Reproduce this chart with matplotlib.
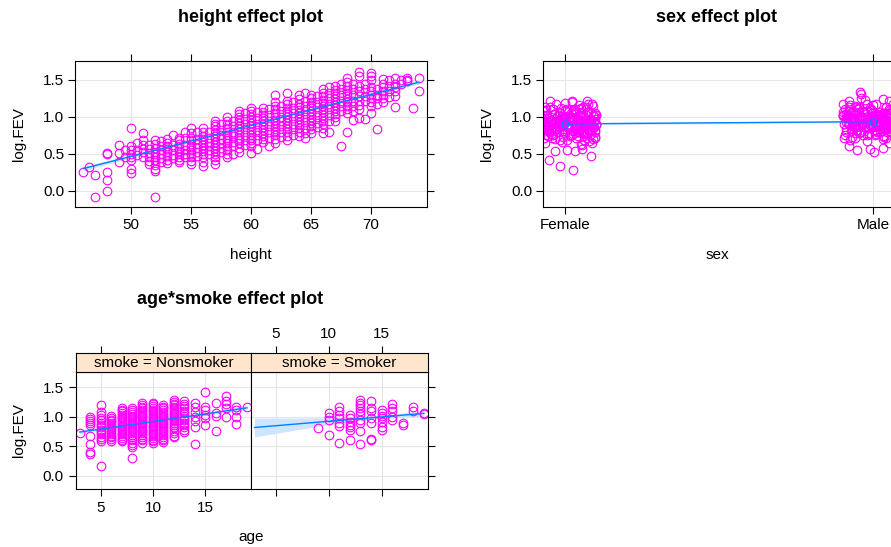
import matplotlib
matplotlib.use('Agg')
import matplotlib.pyplot as plt

plt.rcParams['font.family'] = ['Liberation Sans', 'DejaVu Sans']

# ---- data (partial residuals of log.FEV) ----
height_cols = [
    (46.0, [0.26]), (46.5, [0.32]), (47.0, [0.21, -0.08]),
    (48.0, [0.51, 0.50, 0.26, 0.14, -0.01]), (49.0, [0.62, 0.51, 0.39]),
    (49.5, [0.55, 0.45]),
    (50.0, [0.85, 0.60, 0.55, 0.50, 0.46, 0.42, 0.29, 0.24]),
    (50.5, [0.64, 0.55, 0.48]),
    (51.0, [0.78, 0.69, 0.62, 0.57, 0.52, 0.46]),
    (51.5, [0.62, 0.56, 0.51, 0.45, 0.40, 0.36]),
    (52.0, [0.68, 0.63, 0.58, 0.53, 0.50, 0.46, 0.42, 0.35, 0.30, 0.27, -0.09]),
    (52.5, [0.67, 0.60, 0.55, 0.50, 0.44, 0.39]),
    (53.0, [0.70, 0.65, 0.60, 0.56, 0.52, 0.47, 0.42, 0.37]),
    (53.5, [0.75, 0.62, 0.55, 0.48, 0.44]),
    (54.0, [0.72, 0.68, 0.63, 0.58, 0.54, 0.50, 0.46, 0.42, 0.39]),
    (54.5, [0.80, 0.72, 0.62, 0.55, 0.50, 0.45]),
    (55.0, [0.85, 0.78, 0.72, 0.68, 0.63, 0.59, 0.55, 0.50, 0.45, 0.40, 0.36]),
    (55.5, [0.79, 0.70, 0.63, 0.58, 0.52, 0.47]),
    (56.0, [0.85, 0.80, 0.74, 0.70, 0.66, 0.62, 0.58, 0.54, 0.50, 0.45, 0.39, 0.33]),
    (56.5, [0.80, 0.72, 0.65, 0.60, 0.55, 0.50]),
    (57.0, [0.95, 0.91, 0.87, 0.82, 0.78, 0.74, 0.70, 0.66, 0.62, 0.58, 0.54, 0.50, 0.46, 0.42, 0.36]),
    (57.5, [0.90, 0.82, 0.75, 0.70, 0.64, 0.58, 0.52]),
    (58.0, [1.00, 0.95, 0.90, 0.85, 0.80, 0.76, 0.72, 0.68, 0.64, 0.60, 0.55, 0.50, 0.45]),
    (58.5, [0.95, 0.88, 0.80, 0.74, 0.66, 0.60, 0.50]),
    (59.0, [1.08, 1.04, 1.00, 0.96, 0.92, 0.88, 0.84, 0.80, 0.76, 0.72, 0.68, 0.64, 0.58, 0.52]),
    (59.5, [1.05, 0.97, 0.90, 0.83, 0.75, 0.68, 0.62]),
    (60.0, [1.12, 1.08, 1.04, 1.00, 0.96, 0.92, 0.88, 0.84, 0.80, 0.76, 0.72, 0.68, 0.64, 0.60, 0.51]),
    (60.5, [1.07, 0.98, 0.90, 0.82, 0.75, 0.69, 0.57]),
    (61.0, [1.12, 1.06, 1.02, 0.98, 0.94, 0.90, 0.86, 0.82, 0.78, 0.74, 0.70, 0.66]),
    (61.5, [1.10, 1.02, 0.95, 0.88, 0.80, 0.72, 0.60]),
    (62.0, [1.29, 1.20, 1.15, 1.10, 1.05, 1.00, 0.96, 0.92, 0.88, 0.84, 0.80, 0.75, 0.70, 0.65]),
    (62.5, [1.15, 1.08, 1.00, 0.94, 0.88, 0.80, 0.73]),
    (63.0, [1.32, 1.22, 1.17, 1.12, 1.08, 1.04, 1.00, 0.96, 0.92, 0.88, 0.84, 0.79, 0.74, 0.69]),
    (63.5, [1.20, 1.12, 1.05, 0.98, 0.90, 0.83, 0.76]),
    (64.0, [1.30, 1.24, 1.18, 1.13, 1.09, 1.05, 1.01, 0.97, 0.93, 0.89, 0.85, 0.80, 0.74]),
    (64.5, [1.33, 1.22, 1.15, 1.08, 1.00, 0.93, 0.85, 0.78, 0.71]),
    (65.0, [1.30, 1.25, 1.20, 1.16, 1.12, 1.08, 1.04, 1.00, 0.96, 0.92, 0.88, 0.83, 0.78]),
    (65.5, [1.28, 1.20, 1.13, 1.06, 1.00, 0.92, 0.86]),
    (66.0, [1.38, 1.33, 1.28, 1.23, 1.19, 1.15, 1.11, 1.07, 1.03, 0.99, 0.95, 0.90, 0.85, 0.78]),
    (66.5, [1.40, 1.32, 1.25, 1.18, 1.10, 1.02, 0.95, 0.80]),
    (67.0, [1.42, 1.37, 1.32, 1.28, 1.24, 1.20, 1.16, 1.12, 1.08, 1.04, 1.00, 0.95]),
    (67.5, [1.45, 1.38, 1.30, 1.22, 1.15, 1.08, 0.61]),
    (68.0, [1.52, 1.47, 1.42, 1.37, 1.32, 1.28, 1.24, 1.20, 1.15, 1.10, 1.05, 0.79]),
    (68.5, [1.45, 1.38, 1.30, 1.22, 1.15, 1.08, 0.96]),
    (69.0, [1.61, 1.55, 1.42, 1.35, 1.28, 1.22, 1.16, 1.10, 0.98]),
    (69.5, [1.45, 1.38, 1.28, 1.22, 0.97]),
    (70.0, [1.59, 1.55, 1.50, 1.40, 1.35, 1.30, 1.25, 1.20, 1.15, 1.05]),
    (70.5, [1.38, 1.30, 1.25, 1.18, 0.84]),
    (71.0, [1.51, 1.45, 1.40, 1.35, 1.30, 1.25, 1.20]),
    (71.5, [1.50, 1.42, 1.35, 1.27]),
    (72.0, [1.52, 1.45, 1.40, 1.35, 1.28, 1.13]),
    (72.5, [1.50, 1.45]), (73.0, [1.53, 1.50, 1.48]), (73.5, [1.12]),
    (74.0, [1.53, 1.35]),
]
height_fit_x = [46, 53, 60, 67, 74]
height_fit_y = [0.30, 0.59, 0.885, 1.18, 1.47]
height_fit_lo = [0.27, 0.58, 0.88, 1.17, 1.445]
height_fit_hi = [0.33, 0.60, 0.89, 1.19, 1.495]

sex_levels = ['Female', 'Male']
sex_fit = [0.905, 0.935]
sex_lo = [0.89, 0.92]
sex_hi = [0.92, 0.95]

female_y = [
    0.42, 0.33, 0.28, 0.47, 0.54, 0.55, 0.54, 0.57, 0.64, 1.03,
    1.22, 1.22, 1.21, 1.18, 1.20, 1.18, 1.16, 1.14, 0.66, 0.68,
    0.70, 0.72, 0.74, 0.75, 0.77, 0.78, 0.80, 0.81, 0.82, 0.84,
    0.85, 0.86, 0.87, 0.88, 0.89, 0.90, 0.91, 0.92, 0.93, 0.94,
    0.95, 0.96, 0.97, 0.98, 0.99, 1.00, 1.01, 1.02, 1.04, 1.05,
    1.06, 1.08, 1.10, 1.12, 0.62, 0.65, 0.69, 0.73, 0.77, 0.81,
    0.85, 0.89, 0.93, 0.97, 1.01, 1.05, 1.09, 1.13, 0.71, 0.79,
    0.87, 0.95, 1.03, 1.11, 0.76, 0.84, 0.92, 1.00, 1.07, 0.68,
    0.83, 0.91, 0.99, 1.15, 0.74, 0.88, 0.96, 1.04, 0.80, 0.90,
    0.98, 0.86, 0.82, 0.94, 1.02, 0.78, 0.88, 0.92, 0.96, 0.84,
    1.00, 0.90, 0.86, 0.94, 0.80, 1.06, 0.72, 0.98, 0.88, 1.10,
    0.92, 0.84, 0.96, 0.76, 1.08, 0.90, 0.82, 0.99, 0.87, 0.93,
    0.91, 0.85, 0.97, 0.79, 1.03, 0.89, 0.95, 0.83, 1.01, 0.87,
    0.88, 0.93, 0.79, 1.04, 0.86, 0.97, 0.74, 1.09, 0.91, 0.83,
    0.95, 0.87, 1.01, 0.78, 0.92, 1.06, 0.84, 0.98, 0.71, 0.90,
    1.13, 0.81, 0.94, 0.87, 1.00, 0.76, 0.89, 1.03, 0.85, 0.96,
    0.70, 0.92, 1.08, 0.82, 0.99, 0.88, 0.75, 1.05, 0.93, 0.86,
    1.17, 0.80, 0.95, 0.89, 1.02, 0.73, 0.91, 0.84, 1.10, 0.97,
    0.87, 0.78, 1.00, 0.94, 0.82, 1.07, 0.90, 0.69, 0.96, 0.85,
    1.04, 0.88, 0.77, 0.93, 1.12, 0.83, 0.98, 0.91, 0.72, 1.01,
    0.86, 0.95, 0.80, 1.06, 0.89, 0.75, 0.97, 0.92, 1.14, 0.84,
    0.67, 0.90, 1.03, 0.81, 0.94, 0.87, 1.09, 0.78, 0.99, 0.93,
    0.85, 1.00, 0.74, 0.96, 0.88, 1.05, 0.82, 0.91, 0.63, 1.19,
]
female_dx = [
    -0.053, -0.017, 0.024, 0.082, -0.033, 0.006, 0.031, 0.053, 0.086, 0.100,
    -0.050, 0.023, 0.071, 0.075, 0.021, -0.030, 0.045, -0.065, -0.010, 0.060,
    0.090, -0.070, 0.015, -0.040, 0.065, -0.090, 0.040, -0.005, 0.095, -0.060,
    0.030, -0.080, 0.070, -0.020, 0.100, -0.045, 0.010, 0.080, -0.100, 0.050,
    -0.025, 0.085, -0.075, 0.035, -0.055, 0.060, -0.010, 0.090, -0.035, 0.020,
    0.075, -0.085, 0.045, -0.015, 0.055, -0.065, 0.005, 0.095, -0.045, 0.025,
    -0.095, 0.065, -0.030, 0.040, -0.070, 0.085, 0.000, -0.050, 0.070, -0.020,
    0.050, -0.060, 0.100, -0.040, 0.015, -0.090, 0.080, -0.005, 0.030, 0.060,
    -0.075, 0.035, -0.015, 0.090, -0.055, 0.010, 0.065, -0.085, 0.045, -0.035,
    0.020, -0.100, 0.075, -0.025, 0.055, 0.000, -0.065, 0.085, -0.045, 0.040,
    -0.080, 0.060, 0.010, -0.050, 0.095, -0.020, 0.035, -0.070, 0.070, 0.005,
    0.045, -0.030, 0.080, -0.090, 0.025, 0.100, -0.060, 0.015, -0.010, 0.065,
    -0.040, 0.090, -0.075, 0.050, -0.020, 0.030, -0.095, 0.075, 0.005, -0.055,
    0.012, -0.088, 0.062, -0.038, 0.092, -0.008, 0.042, -0.068, 0.082, -0.028,
    -0.058, 0.032, -0.098, 0.072, -0.018, 0.052, -0.078, 0.002, 0.098, -0.048,
    0.068, -0.012, 0.038, -0.092, 0.018, -0.042, 0.088, -0.062, 0.008, 0.048,
    -0.032, 0.078, -0.072, 0.028, -0.002, 0.058, -0.082, 0.098, -0.022, 0.038,
    0.088, -0.052, 0.018, -0.088, 0.068, -0.008, 0.048, -0.068, 0.028, -0.038,
    -0.078, 0.058, -0.028, 0.092, -0.048, 0.008, 0.072, -0.018, 0.042, -0.098,
    0.032, -0.062, 0.082, -0.002, 0.052, -0.082, 0.012, 0.062, -0.042, 0.092,
    -0.022, 0.042, -0.088, 0.072, -0.058, 0.022, 0.098, -0.032, 0.058, -0.072,
    0.078, -0.008, 0.048, -0.052, 0.002, 0.088, -0.062, 0.032, -0.092, 0.068,
    -0.038, 0.018, 0.062, -0.078, 0.038, -0.018, 0.082, -0.048, 0.052, -0.002,
]
male_y = [
    1.34, 1.31, 0.55, 0.52, 0.57, 0.58, 1.24, 1.18, 1.22, 0.60,
    1.26, 1.20, 1.16, 0.64, 0.67, 0.70, 0.72, 0.74, 0.76, 0.78,
    0.80, 0.81, 0.83, 0.84, 0.85, 0.86, 0.87, 0.88, 0.89, 0.90,
    0.91, 0.92, 0.93, 0.94, 0.95, 0.96, 0.97, 0.98, 0.99, 1.00,
    1.01, 1.02, 1.03, 1.04, 1.05, 1.06, 1.08, 1.10, 1.12, 1.14,
    0.68, 0.73, 0.77, 0.82, 0.86, 0.90, 0.94, 0.98, 1.02, 1.06,
    1.10, 1.15, 0.75, 0.79, 0.88, 0.93, 0.97, 1.01, 1.05, 0.84,
    0.91, 0.99, 1.07, 0.71, 0.87, 0.95, 1.03, 1.11, 0.80, 0.92,
    0.96, 1.00, 0.89, 0.85, 1.09, 0.94, 0.82, 1.04, 0.78, 0.98,
    0.93, 0.87, 1.02, 0.90, 1.13, 0.83, 0.97, 1.06, 0.76, 0.95,
    0.88, 1.00, 0.92, 1.08, 0.86, 0.99, 0.81, 0.94, 1.03, 0.90,
    0.96, 0.84, 1.01, 0.91, 1.17, 0.79, 0.93, 1.05, 0.87, 0.97,
    0.89, 1.02, 0.95, 0.74, 1.07, 0.92, 0.85, 0.99, 1.12, 0.94,
    0.92, 0.97, 0.83, 1.08, 0.90, 1.01, 0.78, 1.13, 0.95, 0.87,
    0.99, 0.91, 1.05, 0.82, 0.96, 1.10, 0.88, 1.02, 0.75, 0.94,
    1.17, 0.85, 0.98, 0.91, 1.04, 0.80, 0.93, 1.07, 0.89, 1.00,
    0.74, 0.96, 1.12, 0.86, 1.03, 0.92, 0.79, 1.09, 0.97, 0.90,
    1.21, 0.84, 0.99, 0.93, 1.06, 0.77, 0.95, 0.88, 1.14, 1.01,
    0.91, 0.82, 1.04, 0.98, 0.86, 1.11, 0.94, 0.73, 1.00, 0.89,
    1.08, 0.92, 0.81, 0.97, 1.16, 0.87, 1.02, 0.95, 0.76, 1.05,
    0.90, 0.99, 0.84, 1.10, 0.93, 0.79, 1.01, 0.96, 1.18, 0.88,
    0.71, 0.94, 1.07, 0.85, 0.98, 0.91, 1.13, 0.82, 1.03, 0.97,
    0.89, 1.04, 0.78, 1.00, 0.92, 1.09, 0.86, 0.95, 0.66, 1.23,
]
male_dx = [
    -0.043, -0.040, -0.054, 0.002, -0.011, 0.030, 0.030, -0.100, 0.050, -0.080,
    -0.040, 0.090, -0.075, 0.050, -0.020, 0.030, -0.095, 0.075, 0.005, -0.055,
    0.045, -0.030, 0.080, -0.090, 0.025, 0.100, -0.060, 0.015, -0.010, 0.065,
    -0.080, 0.060, 0.010, -0.050, 0.095, -0.020, 0.035, -0.070, 0.070, 0.005,
    0.020, -0.100, 0.075, -0.025, 0.055, 0.000, -0.065, 0.085, -0.045, 0.040,
    -0.075, 0.035, -0.015, 0.090, -0.055, 0.010, 0.065, -0.085, 0.045, -0.035,
    0.050, -0.060, 0.100, -0.040, 0.015, -0.090, 0.080, -0.005, 0.030, 0.060,
    -0.095, 0.065, -0.030, 0.040, -0.070, 0.085, 0.000, -0.050, 0.070, -0.020,
    0.075, -0.085, 0.045, -0.015, 0.055, -0.065, 0.005, 0.095, -0.045, 0.025,
    -0.025, 0.085, -0.075, 0.035, -0.055, 0.060, -0.010, 0.090, -0.035, 0.020,
    0.030, -0.080, 0.070, -0.020, 0.100, -0.045, 0.010, 0.080, -0.100, 0.050,
    0.090, -0.070, 0.015, -0.040, 0.065, -0.090, 0.040, -0.005, 0.095, -0.060,
    -0.050, 0.023, 0.071, 0.075, 0.021, -0.030, 0.045, -0.065, -0.010, 0.060,
    -0.038, 0.018, 0.062, -0.078, 0.038, -0.018, 0.082, -0.048, 0.052, -0.002,
    0.078, -0.008, 0.048, -0.052, 0.002, 0.088, -0.062, 0.032, -0.092, 0.068,
    -0.022, 0.042, -0.088, 0.072, -0.058, 0.022, 0.098, -0.032, 0.058, -0.072,
    0.032, -0.062, 0.082, -0.002, 0.052, -0.082, 0.012, 0.062, -0.042, 0.092,
    -0.078, 0.058, -0.028, 0.092, -0.048, 0.008, 0.072, -0.018, 0.042, -0.098,
    0.088, -0.052, 0.018, -0.088, 0.068, -0.008, 0.048, -0.068, 0.028, -0.038,
    -0.032, 0.078, -0.072, 0.028, -0.002, 0.058, -0.082, 0.098, -0.022, 0.038,
    0.068, -0.012, 0.038, -0.092, 0.018, -0.042, 0.088, -0.062, 0.008, 0.048,
    -0.058, 0.032, -0.098, 0.072, -0.018, 0.052, -0.078, 0.002, 0.098, -0.048,
    0.012, -0.088, 0.062, -0.038, 0.092, -0.008, 0.042, -0.068, 0.082, -0.028,
]

nonsmoker_cols = [
    (3, [0.73]),
    (4, [1.00, 0.96, 0.93, 0.89, 0.86, 0.67, 0.53, 0.40, 0.36]),
    (5, [1.20, 1.08, 1.03, 0.98, 0.94, 0.90, 0.86, 0.82, 0.78, 0.74, 0.70, 0.66, 0.62, 0.59, 0.17]),
    (6, [1.01, 0.98, 0.95, 0.92, 0.89, 0.86, 0.83, 0.80, 0.77, 0.74, 0.71, 0.68, 0.65, 0.62, 0.59]),
    (7, [1.15, 1.12, 1.09, 1.06, 1.03, 1.00, 0.97, 0.94, 0.91, 0.88, 0.85, 0.82, 0.79, 0.76,
         0.73, 0.70, 0.67, 0.64, 0.61, 0.58]),
    (8, [1.15, 1.11, 1.08, 1.05, 1.02, 0.99, 0.96, 0.93, 0.90, 0.87, 0.84, 0.81, 0.78, 0.75,
         0.72, 0.69, 0.66, 0.63, 0.60, 0.56, 0.52, 0.49, 0.30]),
    (9, [1.23, 1.20, 1.17, 1.14, 1.11, 1.08, 1.05, 1.02, 0.99, 0.96, 0.93, 0.90, 0.87, 0.84,
         0.81, 0.78, 0.75, 0.72, 0.69, 0.66, 0.63, 0.60, 0.56]),
    (10, [1.24, 1.21, 1.18, 1.15, 1.12, 1.09, 1.06, 1.03, 1.00, 0.97, 0.94, 0.91, 0.88, 0.85,
          0.82, 0.79, 0.76, 0.73, 0.70, 0.67, 0.64, 0.61, 0.58, 0.55]),
    (11, [1.20, 1.17, 1.14, 1.11, 1.08, 1.05, 1.02, 0.99, 0.96, 0.93, 0.90, 0.87, 0.84, 0.81,
          0.78, 0.75, 0.72, 0.69, 0.66, 0.63, 0.60, 0.57]),
    (12, [1.28, 1.25, 1.22, 1.19, 1.16, 1.13, 1.10, 1.07, 1.04, 1.01, 0.98, 0.95, 0.92, 0.89,
          0.86, 0.83, 0.80, 0.76, 0.72, 0.68, 0.65]),
    (13, [1.26, 1.22, 1.18, 1.14, 1.10, 1.06, 1.02, 0.98, 0.94, 0.90, 0.86, 0.82, 0.78, 0.74]),
    (14, [1.24, 1.16, 1.08, 1.00, 0.92, 0.83, 0.53]),
    (15, [1.42, 1.17, 1.11, 1.03, 0.97, 0.86]),
    (16, [1.24, 1.06, 1.01, 0.76]),
    (17, [1.35, 1.26, 1.22, 1.14, 1.00]),
    (18, [1.16, 1.11, 1.00, 0.88]),
    (19, [1.16]),
]
smoker_cols = [
    (9, [0.80]),
    (10, [1.06, 1.00, 0.94, 0.69]),
    (11, [1.17, 1.10, 1.03, 0.97, 0.89, 0.84, 0.56]),
    (12, [1.03, 0.97, 0.91, 0.86, 0.83, 0.77, 0.60]),
    (13, [1.28, 1.24, 1.20, 1.14, 1.10, 1.04, 0.94, 0.89, 0.76, 0.53]),
    (14, [1.27, 1.14, 1.10, 0.97, 0.89, 0.63, 0.60]),
    (15, [1.11, 1.07, 1.01, 0.97, 0.91, 0.83, 0.77]),
    (16, [1.21, 1.14, 1.09, 1.00, 0.94]),
    (17, [0.89, 0.86]),
    (18, [1.17, 1.09]),
    (19, [1.07, 1.04]),
]
age_fit_x = [3, 7, 11, 15, 19]
nonsmoker_fit = [0.74, 0.84, 0.945, 1.047, 1.15]
nonsmoker_lo = [0.71, 0.828, 0.935, 1.027, 1.11]
nonsmoker_hi = [0.77, 0.852, 0.955, 1.067, 1.19]
smoker_fit = [0.817, 0.877, 0.937, 0.996, 1.056]
smoker_lo = [0.657, 0.777, 0.892, 0.966, 1.006]
smoker_hi = [0.977, 0.977, 0.982, 1.026, 1.106]

# ---- styling ----
W, H = 891, 547
PT = '#FF00FF'
LN = '#0080FF'
BAND = '#CFE5FF'
GRID = '#E6E6E6'
YLIM = (-0.225, 1.757)
YTICKS = [0.0, 0.5, 1.0, 1.5]
TS = 11

fig = plt.figure(figsize=(W / 100, H / 100), dpi=100)


def box(l, t, r, b):
    return [l / W, 1 - b / H, (r - l) / W, (b - t) / H]


def style(ax):
    ax.set_ylim(YLIM)
    ax.set_yticks(YTICKS)
    ax.set_yticklabels(['0.0', '0.5', '1.0', '1.5'])
    ax.grid(True, color=GRID, lw=0.8)
    ax.set_axisbelow(True)
    ax.tick_params(direction='out', length=5, width=0.8, labelsize=TS, pad=3,
                   top=True, right=True, labeltop=False, labelright=False)
    for s in ax.spines.values():
        s.set_linewidth(0.8)


def points(ax, cols):
    for x, ys in cols:
        ax.plot([x] * len(ys), ys, 'o', mfc='none', mec=PT, ms=6.2, mew=0.8)


# height effect plot
ax1 = fig.add_axes(box(75.3, 61, 427.3, 207.3))
style(ax1)
ax1.fill_between(height_fit_x, height_fit_lo, height_fit_hi, color=BAND, lw=0)
points(ax1, height_cols)
ax1.plot(height_fit_x, height_fit_y, color=LN, lw=1)
ax1.set_xlim(45.33, 74.69)
ax1.set_xticks([50, 55, 60, 65, 70])
fig.text(251 / W, 1 - 18 / H, 'height effect plot', ha='center', va='center',
         fontsize=13, fontweight='bold')
fig.text(251 / W, 1 - 255 / H, 'height', ha='center', va='center', fontsize=TS)
fig.text(19 / W, 1 - 134 / H, 'log.FEV', ha='center', va='center', fontsize=TS, rotation=90)

# sex effect plot (right edge runs past the figure as in the original)
ax2 = fig.add_axes(box(543.3, 61, 895.3, 207.3))
style(ax2)
ax2.set_xlim(0.9286, 2.0714)
ax2.set_xticks([1, 2])
ax2.set_xticklabels(sex_levels)
ax2.plot([1 + d for d in female_dx], female_y, 'o', mfc='none', mec=PT, ms=6.2, mew=0.8)
ax2.plot([2 + d for d in male_dx], male_y, 'o', mfc='none', mec=PT, ms=6.2, mew=0.8)
ax2.fill_between([1, 2], sex_lo, sex_hi, color=BAND, lw=0, alpha=0.7)
ax2.plot([1, 2], sex_fit, color=LN, lw=1, marker='o', mfc='none', mec=LN, ms=5, mew=1)
fig.text(717 / W, 1 - 18 / H, 'sex effect plot', ha='center', va='center',
         fontsize=13, fontweight='bold')
fig.text(717 / W, 1 - 255 / H, 'sex', ha='center', va='center', fontsize=TS)
fig.text(487 / W, 1 - 134 / H, 'log.FEV', ha='center', va='center', fontsize=TS, rotation=90)

# age*smoke effect plot
panels = [
    ('smoke = Nonsmoker', nonsmoker_cols, nonsmoker_fit, nonsmoker_lo, nonsmoker_hi, 76, 250.7),
    ('smoke = Smoker', smoker_cols, smoker_fit, smoker_lo, smoker_hi, 250.7, 427.7),
]
for i, (lab, cols, fit, lo, hi, l, r) in enumerate(panels):
    ax = fig.add_axes(box(l, 372, r, 489))
    style(ax)
    ax.set_xlim(2.64, 19.36)
    ax.set_xticks([5, 10, 15])
    ax.fill_between(age_fit_x, lo, hi, color=BAND, lw=0)
    points(ax, cols)
    ax.plot(age_fit_x, fit, color=LN, lw=1)
    ax.tick_params(top=False, left=(i == 0), right=(i == 1),
                   labelleft=(i == 0), labelbottom=(i == 0), pad=4)
    st = fig.add_axes(box(l, 353.3, r, 372))
    st.set_facecolor('#FFE5CC')
    st.set_xlim(2.64, 19.36)
    st.set_ylim(0, 1)
    st.set_xticks([5, 10, 15])
    st.set_yticks([])
    st.tick_params(direction='out', length=5, width=0.8, labelsize=TS, pad=4,
                   bottom=False, labelbottom=False, top=True, labeltop=(i == 1))
    for s in st.spines.values():
        s.set_linewidth(0.8)
    st.text(0.5, 0.47, lab, transform=st.transAxes, ha='center', va='center', fontsize=TS)

fig.text(230 / W, 1 - 299 / H, 'age*smoke effect plot', ha='center', va='center',
         fontsize=13, fontweight='bold')
fig.text(251 / W, 1 - 537 / H, 'age', ha='center', va='center', fontsize=TS)
fig.text(19 / W, 1 - 430 / H, 'log.FEV', ha='center', va='center', fontsize=TS, rotation=90)

fig.savefig('out.png', dpi=100)
